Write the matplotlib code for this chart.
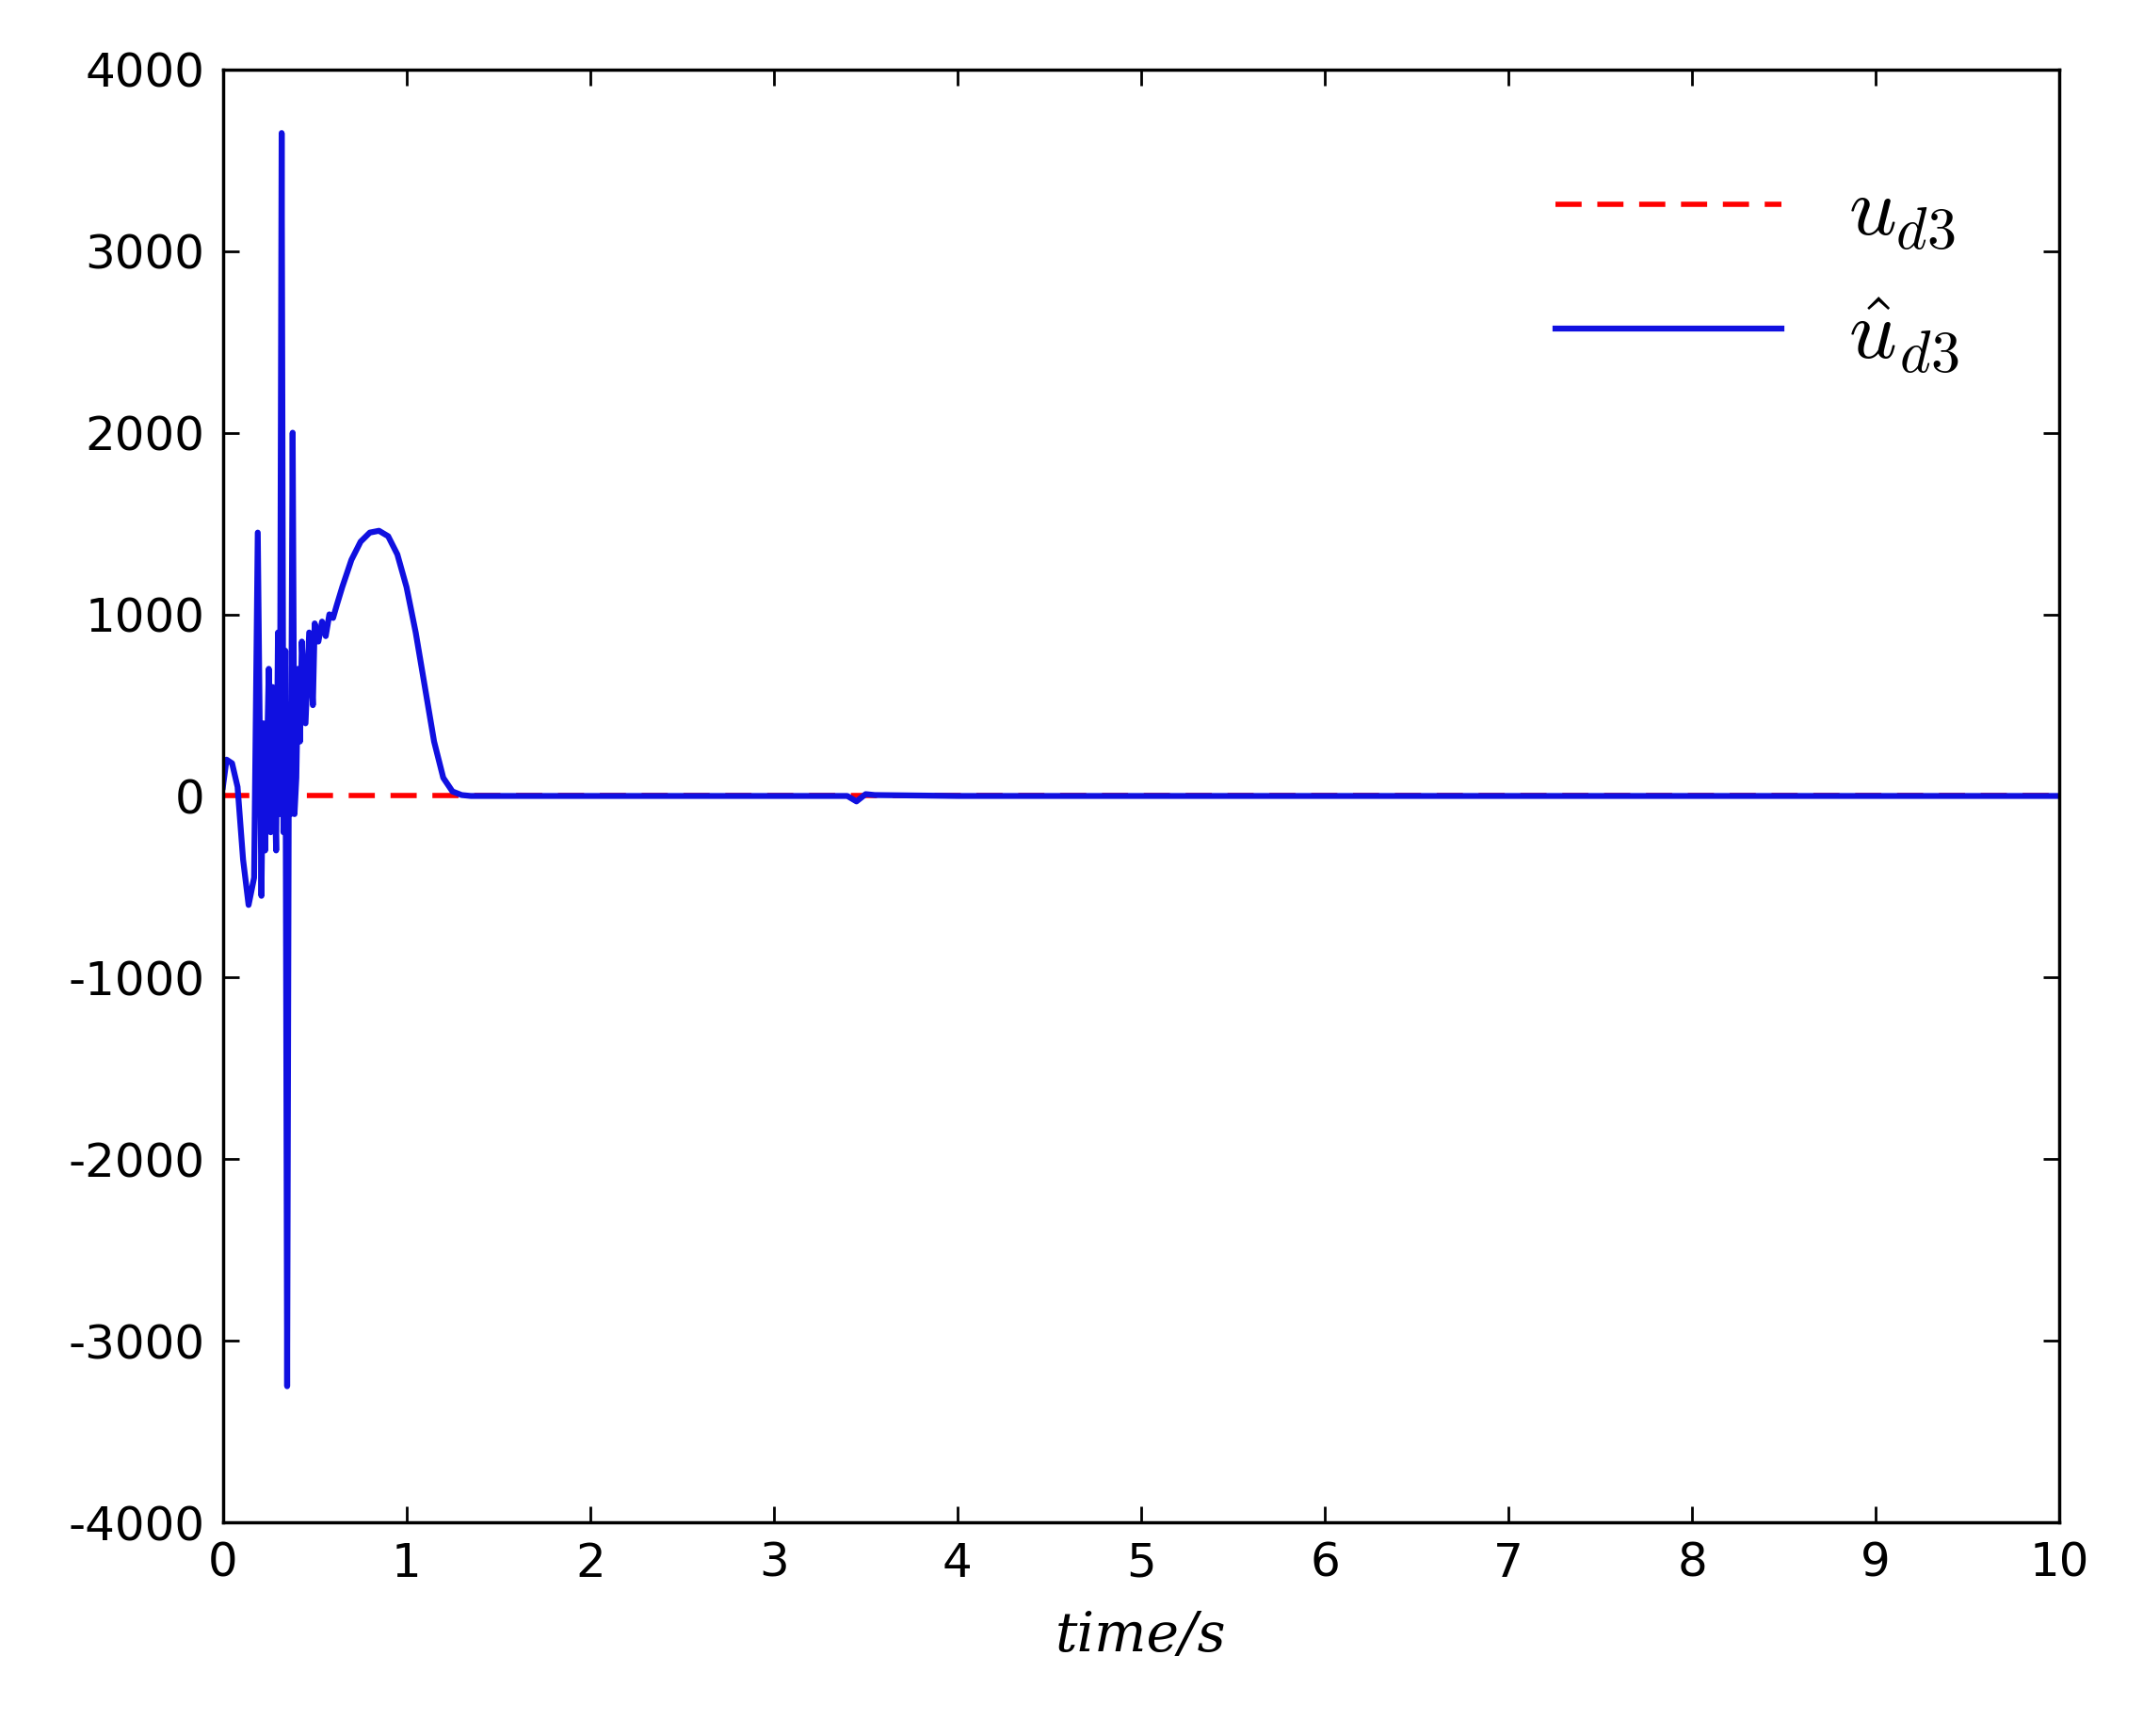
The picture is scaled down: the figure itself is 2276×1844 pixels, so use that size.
import matplotlib
matplotlib.use("Agg")
import matplotlib.pyplot as plt
import numpy as np

plt.rcParams['axes.unicode_minus'] = False
plt.rcParams['mathtext.fontset'] = 'cm'

t_hat = [0, 0.02, 0.05, 0.08, 0.11, 0.14, 0.17, 0.19, 0.21, 0.22, 0.23, 0.25, 0.26, 0.27, 0.29, 0.30, 0.31, 0.32, 0.33, 0.34,
         0.35, 0.36, 0.37, 0.38, 0.39, 0.40, 0.41, 0.42, 0.43, 0.45, 0.47, 0.49, 0.50, 0.52, 0.54, 0.56, 0.58, 0.60, 0.62,
         0.65, 0.70, 0.75, 0.80, 0.85, 0.90, 0.95, 1.00, 1.05, 1.10, 1.15, 1.20, 1.25, 1.30, 1.35, 1.40, 1.50,
         2.0, 3.0, 3.40, 3.45, 3.50, 3.55, 4.0, 5.0, 6.0, 7.0, 8.0, 9.0, 10.0]
u_hat = [50, 200, 180, 50, -350, -600, -450, 1450, -550, 400, -300, 700, -200, 600, -300, 900, -100, 3650, -200, 800,
         -3250, 500, -100, 2000, -100, 100, 700, 300, 850, 400, 900, 500, 950, 850, 960, 880, 1000, 980, 1050,
         1150, 1300, 1400, 1450, 1460, 1430, 1330, 1150, 900, 600, 300, 100, 25, 5, 0, 0, 0,
         0, 0, 0, -30, 10, 5, 0, 0, 0, 0, 0, 0, 0]
t_d = [0, 10]
u_d = [0, 0]

fig = plt.figure(figsize=(22.76, 18.44), dpi=100)
ax = fig.add_axes([0.104, 0.123, 0.857, 0.837])
ax.plot(t_d, u_d, color='red', ls=(0, (5, 3)), lw=4, label=r'$u_{d3}$')
ax.plot(t_hat, u_hat, color='#1010e0', lw=4.5, label=r'$\hat{u}_{d3}$')
ax.set_xlim(0, 10)
ax.set_ylim(-4000, 4000)
ax.set_xticks(range(0, 11))
ax.set_yticks(range(-4000, 4001, 1000))
ax.tick_params(labelsize=36, direction='in', length=12, width=2, top=True, right=True, pad=14)
for s in ax.spines.values():
    s.set_linewidth(2.5)
ax.set_xlabel('time/s', fontsize=42, fontstyle='italic', family='DejaVu Serif', labelpad=18)
ax.legend(loc='upper right', fontsize=64, frameon=False, handlelength=2.7, borderaxespad=0.8)
fig.savefig('out.png', dpi=100)
